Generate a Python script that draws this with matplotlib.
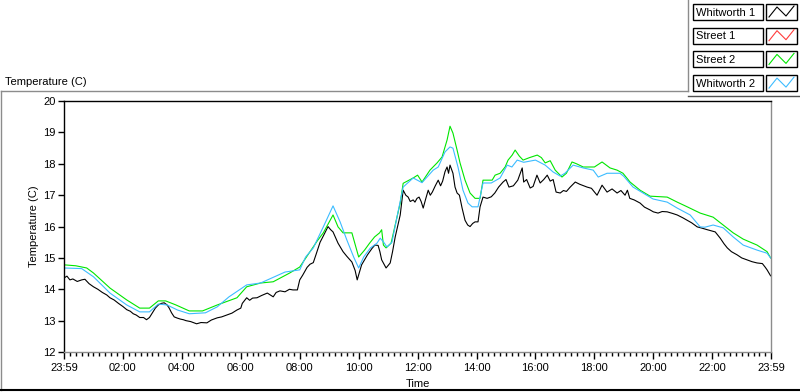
import numpy as np
import matplotlib
matplotlib.use("Agg")
import matplotlib.pyplot as plt
from matplotlib.lines import Line2D
from matplotlib.patches import Rectangle
from matplotlib.ticker import FixedLocator, MultipleLocator

plt.rcParams["font.family"] = ["Liberation Sans", "DejaVu Sans"]
plt.rcParams["font.size"] = 8

# hours since 23:59 (start of the record), temperature in C
w1_t = [0.0, 0.1, 0.2, 0.3, 0.45, 0.6, 0.71, 0.85, 1.0, 1.15, 1.3, 1.45, 1.56, 1.7, 1.85,
        2.0, 2.13, 2.25, 2.35, 2.45, 2.57, 2.7, 2.8, 2.9, 3.0, 3.1, 3.2, 3.3, 3.4, 3.5,
        3.57, 3.65, 3.74, 3.85, 3.95, 4.05, 4.14, 4.3, 4.5, 4.65, 4.85, 5.0, 5.2, 5.35,
        5.53, 5.7, 5.87, 6.0, 6.05, 6.2, 6.3, 6.4, 6.55, 6.7, 6.9, 7.0, 7.1, 7.2, 7.33,
        7.5, 7.65, 7.77, 7.92, 8.0, 8.1, 8.25, 8.35, 8.46, 8.55, 8.69, 8.8, 8.96, 9.05,
        9.13, 9.3, 9.47, 9.6, 9.77, 9.88, 9.95, 10.1, 10.3, 10.45, 10.55, 10.66, 10.72,
        10.78, 10.93, 11.07, 11.15, 11.24, 11.41, 11.51, 11.6, 11.68, 11.75, 11.85, 11.91,
        11.98, 12.05, 12.12, 12.19, 12.28, 12.36, 12.43, 12.5, 12.6, 12.7, 12.78, 12.85,
        12.93, 13.0, 13.05, 13.1, 13.2, 13.27, 13.34, 13.42, 13.51, 13.61, 13.7, 13.78,
        13.87, 13.95, 14.05, 14.12, 14.22, 14.36, 14.5, 14.62, 14.75, 14.9, 15.0, 15.1,
        15.25, 15.4, 15.55, 15.6, 15.7, 15.82, 15.92, 16.05, 16.16, 16.28, 16.4, 16.5,
        16.6, 16.7, 16.84, 16.95, 17.05, 17.18, 17.35, 17.5, 17.75, 17.9, 18.09, 18.26,
        18.43, 18.6, 18.77, 18.9, 19.04, 19.12, 19.2, 19.35, 19.55, 19.7, 19.89, 20.0,
        20.16, 20.3, 20.47, 20.65, 20.81, 21.0, 21.15, 21.3, 21.49, 21.65, 21.83, 22.1,
        22.27, 22.4, 22.51, 22.65, 22.84, 23.0, 23.18, 23.35, 23.52, 23.7, 23.8, 23.86,
        23.98]
w1_v = [14.36, 14.42, 14.30, 14.33, 14.25, 14.30, 14.32, 14.18, 14.08, 14.00, 13.90, 13.82,
        13.73, 13.66, 13.55, 13.45, 13.35, 13.30, 13.22, 13.18, 13.10, 13.10, 13.03, 13.10,
        13.25, 13.40, 13.50, 13.55, 13.57, 13.50, 13.40, 13.25, 13.12, 13.08, 13.05, 13.03,
        13.00, 12.97, 12.90, 12.94, 12.93, 13.02, 13.09, 13.12, 13.18, 13.24, 13.34, 13.40,
        13.55, 13.73, 13.65, 13.72, 13.73, 13.80, 13.88, 13.82, 13.76, 13.90, 13.95, 13.92,
        14.00, 13.98, 13.98, 14.30, 14.45, 14.70, 14.80, 14.85, 15.10, 15.50, 15.70, 16.00,
        15.90, 15.83, 15.47, 15.20, 15.05, 14.87, 14.60, 14.30, 14.78, 15.10, 15.30, 15.41,
        15.40, 15.20, 14.94, 14.68, 14.84, 15.20, 15.67, 16.37, 17.16, 17.00, 16.94, 16.80,
        16.85, 16.78, 16.90, 16.94, 16.80, 16.59, 16.90, 17.16, 17.00, 17.10, 17.30, 17.48,
        17.30, 17.45, 17.75, 17.90, 17.70, 17.96, 17.70, 17.26, 17.07, 17.00, 16.59, 16.20,
        16.05, 16.00, 16.10, 16.15, 16.15, 16.63, 16.94, 16.90, 16.95, 17.07, 17.26, 17.42,
        17.50, 17.26, 17.30, 17.48, 17.87, 17.42, 17.50, 17.23, 17.28, 17.64, 17.39, 17.50,
        17.64, 17.45, 17.50, 17.10, 17.07, 17.15, 17.12, 17.26, 17.42, 17.35, 17.26, 17.22,
        17.00, 17.32, 17.10, 17.20, 17.07, 17.15, 17.00, 17.16, 16.90, 16.85, 16.75, 16.62,
        16.53, 16.47, 16.43, 16.48, 16.47, 16.42, 16.37, 16.28, 16.20, 16.12, 15.99, 15.95,
        15.90, 15.83, 15.63, 15.45, 15.32, 15.20, 15.10, 15.00, 14.94, 14.88, 14.84, 14.82,
        14.70, 14.62, 14.43]

s1_t = []
s1_v = []

s2_t = [0.0, 0.4, 0.77, 1.0, 1.56, 2.13, 2.57, 2.9, 3.2, 3.45, 3.8, 4.25, 4.7, 5.2, 5.87,
        6.2, 6.67, 7.1, 7.66, 8.0, 8.35, 8.6, 8.8, 9.13, 9.3, 9.47, 9.77, 10.0, 10.2,
        10.37, 10.54, 10.71, 10.78, 10.84, 10.93, 11.1, 11.3, 11.41, 11.51, 11.85, 12.0,
        12.15, 12.42, 12.66, 12.83, 13.0, 13.1, 13.2, 13.34, 13.44, 13.61, 13.78, 13.95,
        14.12, 14.22, 14.53, 14.63, 14.8, 14.97, 15.07, 15.21, 15.31, 15.45, 15.58, 15.8,
        16.06, 16.2, 16.33, 16.5, 16.67, 16.9, 17.05, 17.24, 17.4, 17.62, 18.0, 18.26,
        18.53, 18.77, 18.97, 19.21, 19.55, 19.89, 20.47, 20.81, 21.15, 21.59, 22.03, 22.37,
        22.71, 23.05, 23.52, 23.86, 23.98]
s2_v = [14.78, 14.75, 14.68, 14.52, 14.04, 13.66, 13.40, 13.40, 13.63, 13.63, 13.50, 13.31,
        13.31, 13.50, 13.73, 14.08, 14.20, 14.24, 14.52, 14.71, 15.20, 15.55, 15.80, 16.37,
        15.99, 15.80, 15.80, 15.03, 15.25, 15.47, 15.67, 15.80, 15.90, 15.41, 15.32, 15.47,
        16.30, 16.75, 17.38, 17.55, 17.64, 17.42, 17.80, 18.03, 18.22, 18.76, 19.20, 18.98,
        18.44, 18.03, 17.48, 17.07, 16.90, 16.90, 17.48, 17.48, 17.64, 17.70, 17.90, 18.12,
        18.28, 18.44, 18.25, 18.12, 18.20, 18.28, 18.20, 18.03, 18.10, 17.80, 17.58, 17.70,
        18.06, 18.00, 17.90, 17.90, 18.06, 17.87, 17.80, 17.70, 17.42, 17.16, 16.97, 16.94,
        16.78, 16.63, 16.43, 16.30, 16.05, 15.80, 15.60, 15.41, 15.20, 15.00]

w2_t = [0.0, 0.6, 1.0, 1.56, 2.13, 2.57, 2.9, 3.2, 3.5, 3.85, 4.25, 4.8, 5.2, 5.6, 6.2,
        6.67, 7.5, 8.0, 8.2, 8.46, 8.8, 9.13, 9.37, 9.6, 9.83, 10.0, 10.17, 10.4, 10.62,
        10.73, 10.85, 10.96, 11.13, 11.3, 11.51, 11.85, 12.15, 12.53, 12.7, 12.93, 13.1,
        13.2, 13.37, 13.54, 13.71, 13.85, 14.05, 14.22, 14.5, 14.8, 15.04, 15.2, 15.38,
        15.6, 16.0, 16.33, 16.6, 16.84, 17.0, 17.28, 17.62, 17.96, 18.13, 18.43, 18.87,
        19.0, 19.31, 19.65, 19.99, 20.47, 20.81, 21.25, 21.59, 21.75, 22.03, 22.37, 22.71,
        23.05, 23.52, 23.86, 23.98]
w2_v = [14.68, 14.66, 14.40, 13.88, 13.50, 13.28, 13.28, 13.53, 13.50, 13.34, 13.22, 13.25,
        13.44, 13.76, 14.14, 14.20, 14.55, 14.62, 15.03, 15.32, 15.99, 16.66, 16.15, 15.57,
        15.03, 14.68, 15.03, 15.32, 15.47, 15.63, 15.50, 15.35, 15.50, 16.30, 17.26, 17.55,
        17.40, 17.80, 17.90, 18.38, 18.54, 18.50, 17.90, 17.16, 16.75, 16.63, 16.63, 17.39,
        17.39, 17.55, 17.96, 17.90, 18.12, 18.05, 18.12, 17.96, 17.74, 17.61, 17.70, 17.96,
        17.87, 17.80, 17.58, 17.70, 17.70, 17.60, 17.26, 17.07, 16.88, 16.78, 16.59, 16.37,
        15.99, 15.98, 16.05, 15.96, 15.67, 15.41, 15.25, 15.15, 15.00]

series_names = ["Whitworth 1", "Street 1", "Street 2", "Whitworth 2"]
series_colors = ["#000000", "#ff3c3c", "#00e600", "#3cbcff"]

x_ticks = [0, 2, 4, 6, 8, 10, 12, 14, 16, 18, 20, 22, 24]
x_labels = ["23:59", "02:00", "04:00", "06:00", "08:00", "10:00", "12:00", "14:00",
            "16:00", "18:00", "20:00", "22:00", "23:59"]

fig = plt.figure(figsize=(8, 3.92), dpi=100)
ax = fig.add_axes([0.08, 0.102, 0.884, 0.640])

data = [(w1_t, w1_v), (s1_t, s1_v), (s2_t, s2_v), (w2_t, w2_v)]
for (t, v), c in zip(data, series_colors):
    ax.plot(t, v, color=c, lw=0.8)

ax.set_xlim(0, 24)
ax.set_ylim(12, 20)
ax.xaxis.set_major_locator(FixedLocator(x_ticks))
ax.set_xticklabels(x_labels)
ax.xaxis.set_minor_locator(MultipleLocator(0.2))
ax.yaxis.set_major_locator(MultipleLocator(1))
ax.tick_params(axis="x", which="major", length=5, width=1, direction="out", pad=3)
ax.tick_params(axis="x", which="minor", length=3, width=1, direction="out")
ax.tick_params(axis="y", length=4, width=1, direction="out", pad=2)
for side, col in [("left", "black"), ("top", "black"), ("right", "#8c8c8c"), ("bottom", "#8c8c8c")]:
    ax.spines[side].set_color(col)
    ax.spines[side].set_linewidth(1)
ax.set_xlabel("Time", labelpad=4)
ax.set_ylabel("Temperature (C)", labelpad=3)

# panel frame and legend drawn in pixel space
ov = fig.add_axes([0, 0, 1, 1], zorder=-1)
ov.set_xlim(0, 800)
ov.set_ylim(392, 0)
ov.axis("off")
ov.add_line(Line2D([1, 1], [91, 390], color="#8c8c8c", lw=1))
ov.add_line(Line2D([1, 688], [91, 91], color="#8c8c8c", lw=1))
ov.add_line(Line2D([688, 688], [0, 91], color="#8c8c8c", lw=1))
ov.add_line(Line2D([688, 800], [96, 96], color="#505050", lw=1))
ov.add_line(Line2D([0, 800], [390, 390], color="black", lw=1.5))
fig.text(5 / 800, 1 - 82 / 392, "Temperature (C)", ha="left", va="center")

ov2 = fig.add_axes([0, 0, 1, 1], zorder=5)
ov2.set_xlim(0, 800)
ov2.set_ylim(392, 0)
ov2.axis("off")
for i, (name, col) in enumerate(zip(series_names, series_colors)):
    top = 4 + i * 23.7
    ov2.add_patch(Rectangle((693, top), 70, 16, fill=False, ec="black", lw=1))
    ov2.text(696, top + 8.5, name, ha="left", va="center", fontsize=8)
    ov2.add_patch(Rectangle((766, top), 31, 16, fill=False, ec="black", lw=1))
    ov2.add_line(Line2D([769, 777, 786, 794], [top + 13, top + 3, top + 12, top + 2],
                        color=col, lw=0.8))

fig.savefig("out.png", dpi=100)
